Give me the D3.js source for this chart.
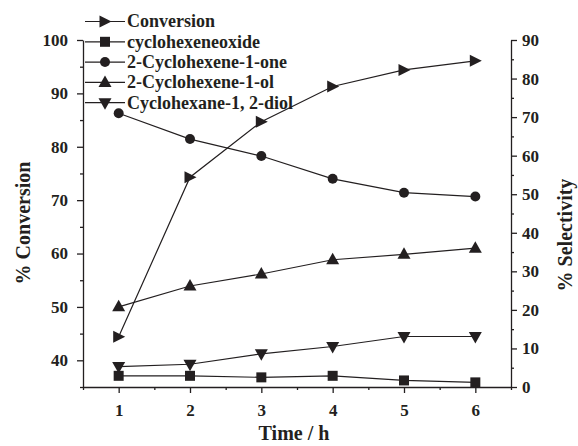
<!DOCTYPE html>
<html><head><meta charset="utf-8">
<script src="https://cdn.jsdelivr.net/npm/d3@7"></script>
<style>
body{margin:0;background:#fff}
svg{display:block}
text{font-family:"Liberation Serif","Times New Roman",serif;font-weight:bold;fill:#231f20}
</style>
</head><body><svg id="c" width="578" height="446"></svg>
<script>
// ---- data ----
const times = [1, 2, 3, 4, 5, 6];
const conversion = [44.4, 74.3, 84.7, 91.3, 94.4, 96.1];   // left axis
const epoxide    = [2.9, 2.9, 2.5, 2.9, 1.7, 1.2];          // right axis
const enone      = [71.0, 64.3, 59.9, 54.0, 50.4, 49.4];
const enol       = [20.8, 26.2, 29.3, 33.0, 34.4, 36.0];
const diol       = [5.3, 5.9, 8.6, 10.5, 13.1, 13.1];
const seriesNames = ["Conversion", "cyclohexeneoxide", "2-Cyclohexene-1-one", "2-Cyclohexene-1-ol", "Cyclohexane-1, 2-diol"];
const leftTicks  = [40, 50, 60, 70, 80, 90, 100];
const leftMinor  = [35, 45, 55, 65, 75, 85, 95];
const rightTicks = [0, 10, 20, 30, 40, 50, 60, 70, 80, 90];
const rightMinor = [5, 15, 25, 35, 45, 55, 65, 75, 85];
const xTicks     = [1, 2, 3, 4, 5, 6];
const xMinor     = [0.5, 1.5, 2.5, 3.5, 4.5, 5.5, 6.5];

// ---- layout ----
const ink = "#231f20";
const svg = d3.select("#c");
const x  = d3.scaleLinear().domain([0.5, 6.5]).range([83, 511]);
const yL = d3.scaleLinear().domain([35, 100]).range([387, 40]);
const yR = d3.scaleLinear().domain([0, 90]).range([387, 40]);

function styleAxis(g, fs) {
  g.selectAll("path,line").attr("stroke", ink).attr("stroke-width", 1.3);
  g.selectAll("text").attr("font-size", fs).attr("fill", ink)
    .attr("font-family", '"Liberation Serif","Times New Roman",serif').attr("font-weight", "bold");
}

// minor ticks
svg.append("g").attr("transform", "translate(83,0)")
  .call(d3.axisLeft(yL).tickValues(leftMinor).tickSize(3).tickFormat(""))
  .call(g => { g.select(".domain").remove(); styleAxis(g, 17); });
svg.append("g").attr("transform", "translate(511,0)")
  .call(d3.axisRight(yR).tickValues(rightMinor).tickSize(3).tickFormat(""))
  .call(g => { g.select(".domain").remove(); styleAxis(g, 17); });
svg.append("g").attr("transform", "translate(0,387)")
  .call(d3.axisBottom(x).tickValues(xMinor).tickSize(3).tickFormat(""))
  .call(g => { g.select(".domain").remove(); styleAxis(g, 17); });

// major axes
svg.append("g").attr("transform", "translate(83,0)")
  .call(d3.axisLeft(yL).tickValues(leftTicks).tickSize(6).tickSizeOuter(0).tickPadding(9).tickFormat(d3.format("d")))
  .call(g => styleAxis(g, 17));
svg.append("g").attr("transform", "translate(511,0)")
  .call(d3.axisRight(yR).tickValues(rightTicks).tickSize(6).tickSizeOuter(0).tickPadding(5).tickFormat(d3.format("d")))
  .call(g => styleAxis(g, 17));
svg.append("g").attr("transform", "translate(0,387)")
  .call(d3.axisBottom(x).tickValues(xTicks).tickSize(6).tickSizeOuter(0).tickPadding(11).tickFormat(d3.format("d")))
  .call(g => styleAxis(g, 17));

// axis titles
svg.append("text").attr("x", 294).attr("y", 440).attr("text-anchor", "middle")
  .attr("font-size", 20).text("Time / h");
svg.append("text").attr("transform", "translate(30,223) rotate(-90)").attr("text-anchor", "middle")
  .attr("font-size", 20).text("% Conversion");
svg.append("text").attr("transform", "translate(572,235) rotate(-90)").attr("text-anchor", "middle")
  .attr("font-size", 20).text("% Selectivity");

// markers
const markerPaths = {
  right: "M-5.5,-6L6.5,0L-5.5,6Z",
  square: "M-5,-5H5V5H-5Z",
  circle: d3.symbol(d3.symbolCircle, 78)(),
  up: "M0,-7L6.5,4.5L-6.5,4.5Z",
  down: "M0,7L6.5,-4.5L-6.5,-4.5Z"
};

const series = [
  {name: seriesNames[0], vals: conversion, y: yL, m: "right"},
  {name: seriesNames[1], vals: epoxide,    y: yR, m: "square"},
  {name: seriesNames[2], vals: enone,      y: yR, m: "circle"},
  {name: seriesNames[3], vals: enol,       y: yR, m: "up"},
  {name: seriesNames[4], vals: diol,       y: yR, m: "down"}
];

const line = (ys) => d3.line().x((d, i) => x(times[i])).y(d => ys(d));

series.forEach(s => {
  svg.append("path").attr("d", line(s.y)(s.vals))
    .attr("fill", "none").attr("stroke", ink).attr("stroke-width", 1.2);
  svg.append("g").selectAll("path").data(s.vals).join("path")
    .attr("transform", (d, i) => `translate(${x(times[i])},${s.y(d)})`)
    .attr("d", markerPaths[s.m]).attr("fill", ink);
});

// legend
const leg = svg.append("g");
series.forEach((s, i) => {
  const yy = 21.5 + i * 20.3;
  leg.append("line").attr("x1", 85).attr("x2", 125).attr("y1", yy).attr("y2", yy)
    .attr("stroke", ink).attr("stroke-width", 1.2);
  leg.append("path").attr("transform", `translate(105,${yy})`).attr("d", markerPaths[s.m]).attr("fill", ink);
  leg.append("text").attr("x", 127).attr("y", yy).attr("dy", "0.33em")
    .attr("font-size", 18).text(s.name);
});
</script>
</body></html>
